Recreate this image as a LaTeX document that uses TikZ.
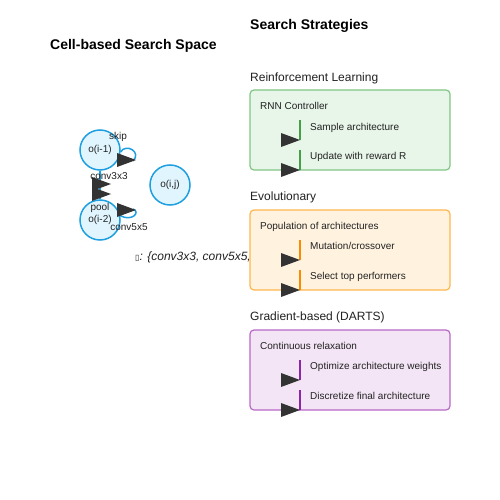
\documentclass[tikz,border=0pt]{standalone}
\usepackage{fontspec}
\setmainfont{Liberation Sans}
\newfontfamily\symfont{DejaVu Sans}
\definecolor{txtc}{HTML}{222222}
\definecolor{cblue}{HTML}{1E9FE0}
\definecolor{cfill}{HTML}{E1F5FE}
\definecolor{headc}{HTML}{333333}
\definecolor{gstroke}{HTML}{81C784}
\definecolor{gfill}{HTML}{E8F5E9}
\definecolor{gline}{HTML}{43A047}
\definecolor{ostroke}{HTML}{FFB74D}
\definecolor{ofill}{HTML}{FFF3E0}
\definecolor{oline}{HTML}{FB8C00}
\definecolor{pstroke}{HTML}{BA68C8}
\definecolor{pfill}{HTML}{F3E5F5}
\definecolor{pline}{HTML}{8E24AA}
\newcommand\myhead[1]{\fill[headc] ($(#1)+(-19,-7)$) -- ($(#1)+(-19,7)$) -- (#1) -- cycle;}
\usetikzlibrary{calc}
\begin{document}
\begin{tikzpicture}[x=1pt,y=-1pt,
  small/.style={inner sep=0pt, text=txtc, font=\fontsize{10}{12}\selectfont, text height=7.2pt, text depth=0pt},
  head/.style={inner sep=0pt, text=txtc, font=\fontsize{12}{14}\selectfont, text height=8.6pt, text depth=0pt, anchor=west},
  title/.style={inner sep=0pt, text=black, font=\bfseries\fontsize{14}{16}\selectfont, text height=10pt, text depth=0pt, anchor=west},
  opnode/.style={circle, draw=cblue, fill=cfill, line width=1.5pt, minimum size=40pt, inner sep=0pt, text=txtc, font=\fontsize{10}{12}\selectfont},
  edge/.style={draw=cblue, line width=1.5pt},
  sbox/.style={rounded corners=4pt, minimum width=200pt, minimum height=80pt, line width=1.2pt},
  stepline/.style={line width=1.5pt}
]
\useasboundingbox[fill=white] (0,0) rectangle (500,500);

% titles
\node[title] (t1) at (250,25) {Search Strategies};
\node[title] (t2) at (50,45) {Cell-based Search Space};

% cell graph
\node[opnode] (a) at (100,150) {o(i-1)};
\node[opnode] (b) at (100,220) {o(i-2)};
\node[opnode] (c) at (170,185) {o(i,j)};
\coordinate (la) at (133,161);
\coordinate (lb) at (133,209);
\draw[edge] (a.south) -- (b.north);
\draw[edge] (a.-5) .. controls (126,143) and (142,152) .. (la);
\draw[edge] (lb) .. controls (141,212) and (132,222) .. (b.12);
\coordinate (ha) at (136,160);
\coordinate (hb) at (136,210);
\coordinate (hc1) at (111,184);
\coordinate (hc2) at (111,194);
\myhead{ha}
\myhead{hb}
\myhead{hc1}
\myhead{hc2}
\node[small] (skip) at (118,136) {skip};
\node[small] (c33) at (109,176) {conv3x3};
\node[small] (pool) at (100,207) {pool};
\node[small] (c55) at (129,227) {conv5x5};
\node[inner sep=0pt, text=txtc, font=\itshape\fontsize{12}{14}\selectfont, text height=8.6pt, text depth=0pt, anchor=west] (ops) at (135,256) {{\symfont\upshape\fontsize{8}{10}\selectfont ▯}: \{conv3x3, conv5x5,};

% strategy headers
\node[head] (h1) at (250,77) {Reinforcement Learning};
\node[head] (h2) at (250,196) {Evolutionary};
\node[head] (h3) at (250,316) {Gradient-based (DARTS)};

% boxes
\node[sbox, draw=gstroke, fill=gfill] (rl) at (350,130) {};
\node[sbox, draw=ostroke, fill=ofill] (ev) at (350,250) {};
\node[sbox, draw=pstroke, fill=pfill] (gd) at (350,370) {};

% RL
\coordinate (r1s) at (300,120); \coordinate (r1e) at (300,140);
\coordinate (r2s) at (300,150); \coordinate (r2e) at (300,170);
\draw[stepline, gline] (r1s) -- (r1e);
\draw[stepline, gline] (r2s) -- (r2e);
\myhead{r1e}
\myhead{r2e}
\node[small, anchor=west] (rt0) at (260,106) {RNN Controller};
\node[small, anchor=west] (rt1) at (310,127) {Sample architecture};
\node[small, anchor=west] (rt2) at (310,156) {Update with reward R};

% Evolutionary
\coordinate (e1s) at (300,240); \coordinate (e1e) at (300,260);
\coordinate (e2s) at (300,270); \coordinate (e2e) at (300,290);
\draw[stepline, oline] (e1s) -- (e1e);
\draw[stepline, oline] (e2s) -- (e2e);
\myhead{e1e}
\myhead{e2e}
\node[small, anchor=west] (et0) at (260,226) {Population of architectures};
\node[small, anchor=west] (et1) at (310,246) {Mutation/crossover};
\node[small, anchor=west] (et2) at (310,276) {Select top performers};

% Gradient
\coordinate (g1s) at (300,360); \coordinate (g1e) at (300,380);
\coordinate (g2s) at (300,390); \coordinate (g2e) at (300,410);
\draw[stepline, pline] (g1s) -- (g1e);
\draw[stepline, pline] (g2s) -- (g2e);
\myhead{g1e}
\myhead{g2e}
\node[small, anchor=west] (gt0) at (260,346) {Continuous relaxation};
\node[small, anchor=west] (gt1) at (310,366) {Optimize architecture weights};
\node[small, anchor=west] (gt2) at (310,396) {Discretize final architecture};
\end{tikzpicture}
\end{document}
